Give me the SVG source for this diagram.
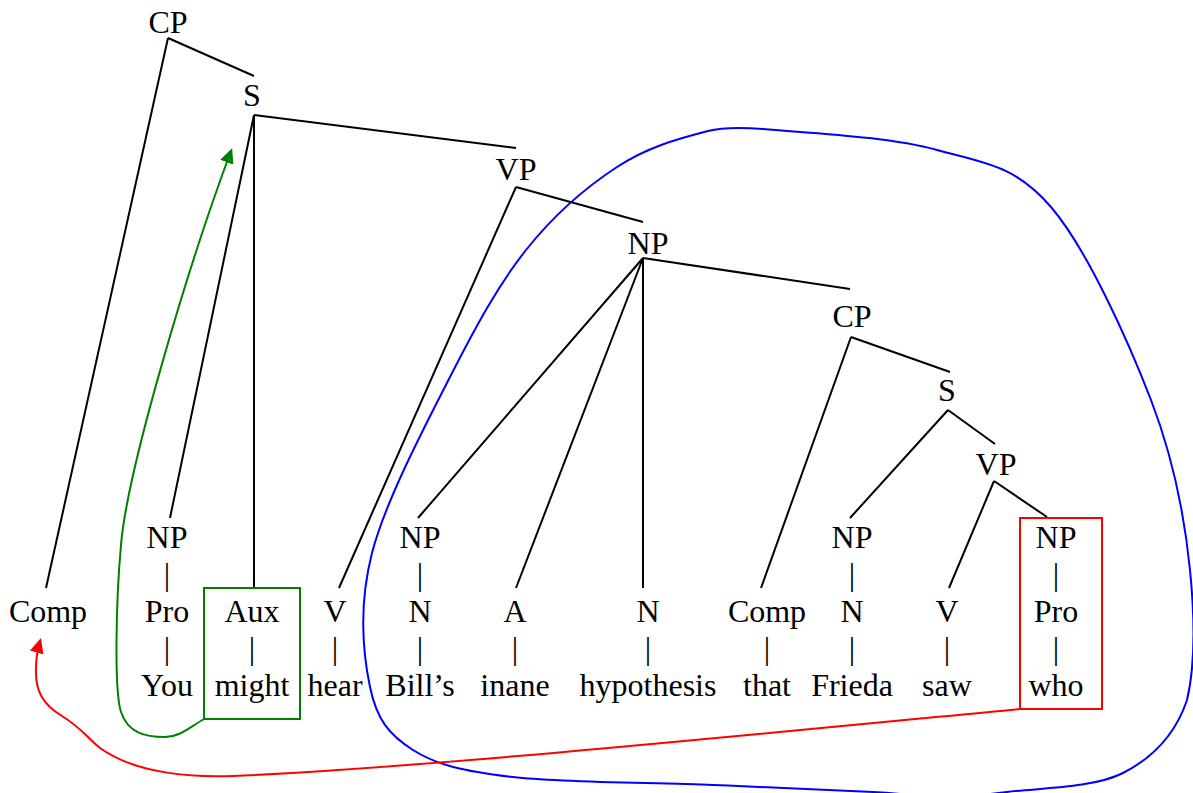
<svg xmlns="http://www.w3.org/2000/svg" width="1193" height="793" viewBox="0 0 1193 793">
<style>
text{font-family:"Liberation Serif","Times New Roman",serif;font-size:32px;fill:#000;text-anchor:middle}
.edge{stroke:#000;stroke-width:2;fill:none;stroke-linecap:butt}
.box{fill:none;stroke-width:2}
.curve{fill:none;stroke-width:2}
</style>
<defs>
<marker id="arrG" markerUnits="userSpaceOnUse" markerWidth="16" markerHeight="16" viewBox="0 0 16 16" refX="13" refY="7" orient="auto"><path d="M0,0 L15,7 L0,14 z" fill="#008000"/></marker>
<marker id="arrR" markerUnits="userSpaceOnUse" markerWidth="16" markerHeight="16" viewBox="0 0 16 16" refX="13" refY="7" orient="auto"><path d="M0,0 L15,7 L0,14 z" fill="#ff0000"/></marker>
</defs>
<rect width="1193" height="793" fill="#fff"/>

<g id="connectors">
<line class="edge" x1="168" y1="38" x2="254" y2="76"/>
<line class="edge" x1="168" y1="38" x2="46" y2="588"/>
<line class="edge" x1="254" y1="115" x2="516" y2="148"/>
<line class="edge" x1="254" y1="115" x2="170" y2="518"/>
<line class="edge" x1="254" y1="115" x2="254" y2="588"/>
<line class="edge" x1="516" y1="187" x2="643" y2="222"/>
<line class="edge" x1="516" y1="187" x2="339" y2="588"/>
<line class="edge" x1="643" y1="258" x2="418" y2="518"/>
<line class="edge" x1="643" y1="258" x2="516" y2="588"/>
<line class="edge" x1="643" y1="258" x2="643" y2="588"/>
<line class="edge" x1="643" y1="258" x2="850" y2="289"/>
<line class="edge" x1="851" y1="337" x2="950" y2="372"/>
<line class="edge" x1="851" y1="337" x2="761" y2="588"/>
<line class="edge" x1="948" y1="410" x2="850" y2="518"/>
<line class="edge" x1="948" y1="410" x2="995" y2="444"/>
<line class="edge" x1="994" y1="481" x2="949" y2="588"/>
<line class="edge" x1="994" y1="481" x2="1047" y2="517"/>
<path class="curve" stroke="#0000ff" d="M763,129 C820.8,133.8 889,137 937,150 C985,163 1015.3,165.3 1051,207 C1086.7,248.7 1127.7,339.5 1151,400 C1174.3,460.5 1185,520 1190,570 C1195,620 1195,666 1187,700 C1175.7,733.8 1153,757.7 1123,773 C1093,788.3 1037.5,788 1007,792 C976.5,796 962.3,797 940,797 C917.7,797 910.8,794 873,792 C835.2,790 773,787.5 713,785 C653,782.5 563,782.8 513,777 C463,771.2 436.8,765 413,750 C389.2,735 376.8,719.8 370,687 C363.2,654.2 358.7,604.7 372,553 C385.3,501.3 424.3,427.5 450,377 C475.7,326.5 498.2,285 526,250 C553.8,215 586.7,186.8 617,167 C647.3,147.2 676,139.3 708,131 C725.7,126.4 745,127.5 763,129 Z"/>
<path class="curve" stroke="#008000" marker-end="url(#arrG)" d="M204,719 C190,727 180,737 165,737 C145,737 128,733 121,712 C114,690 116,600 121,545 C127,470 190,260 231.4,150"/>
<path class="curve" stroke="#ff0000" marker-end="url(#arrR)" d="M1020,709 C760,734 420,768 233,776 C170,778 128,768 100,748 C88,738 80,727 62,716 C42,704 35,690 36,668 C36,658 38,648 40.4,640"/>
</g>

<g id="box-aux"><rect class="box" stroke="#008000" x="204" y="588" width="96" height="131"/></g>
<g id="box-who"><rect class="box" stroke="#ff0000" x="1020" y="518" width="82" height="191"/></g>

<g id="n-cp1"><text x="168" y="32.5">CP</text></g>
<g id="n-s1"><text x="252" y="106">S</text></g>
<g id="n-vp1"><text x="516" y="180">VP</text></g>
<g id="n-np1"><text x="648" y="253.6">NP</text></g>
<g id="n-cp2"><text x="852" y="327.3">CP</text></g>
<g id="n-s2"><text x="947" y="401">S</text></g>
<g id="n-vp2"><text x="996" y="474.7">VP</text></g>

<g id="n-comp1"><text x="48" y="622.1">Comp</text></g>
<g id="n-you"><text x="167" y="548.4">NP</text><text x="167" y="585.3">|</text><text x="167" y="622.1">Pro</text><text x="167" y="659">|</text><text x="167" y="695.8">You</text></g>
<g id="n-might"><text x="252" y="622.1">Aux</text><text x="252" y="659">|</text><text x="252" y="695.8">might</text></g>
<g id="n-hear"><text x="335" y="622.1">V</text><text x="335" y="659">|</text><text x="335" y="695.8">hear</text></g>
<g id="n-bills"><text x="420" y="548.4">NP</text><text x="420" y="585.3">|</text><text x="420" y="622.1">N</text><text x="420" y="659">|</text><text x="420" y="695.8">Bill’s</text></g>
<g id="n-inane"><text x="515" y="622.1">A</text><text x="515" y="659">|</text><text x="515" y="695.8">inane</text></g>
<g id="n-hypothesis"><text x="648" y="622.1">N</text><text x="648" y="659">|</text><text x="648" y="695.8">hypothesis</text></g>
<g id="n-that"><text x="767" y="622.1">Comp</text><text x="767" y="659">|</text><text x="767" y="695.8">that</text></g>
<g id="n-frieda"><text x="852" y="548.4">NP</text><text x="852" y="585.3">|</text><text x="852" y="622.1">N</text><text x="852" y="659">|</text><text x="852" y="695.8">Frieda</text></g>
<g id="n-saw"><text x="947" y="622.1">V</text><text x="947" y="659">|</text><text x="947" y="695.8">saw</text></g>
<g id="n-who"><text x="1056" y="548.4">NP</text><text x="1056" y="585.3">|</text><text x="1056" y="622.1">Pro</text><text x="1056" y="659">|</text><text x="1056" y="695.8">who</text></g>
</svg>
